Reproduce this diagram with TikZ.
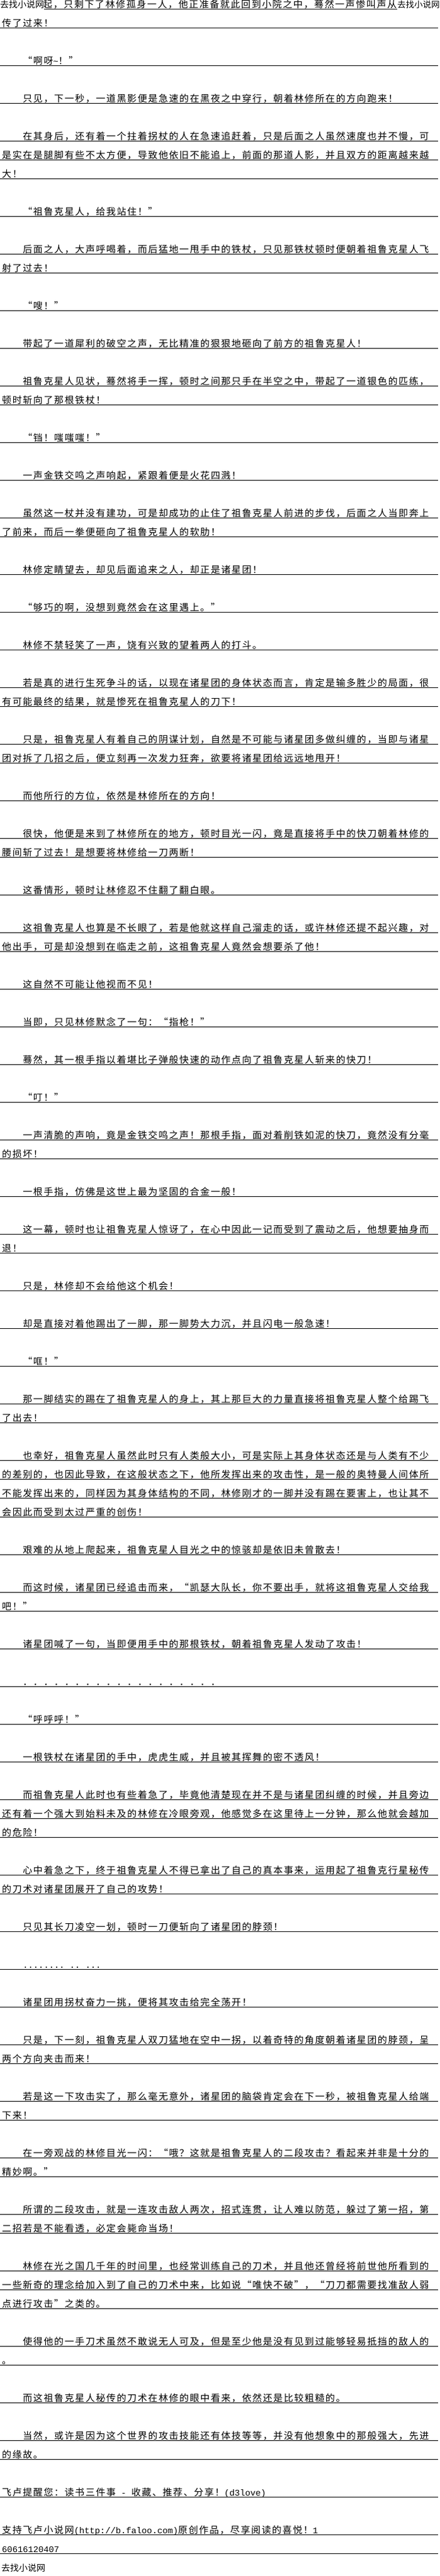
\documentclass[tikz,border=0pt]{standalone}
\usepackage{fontspec}
\usepackage{tikz}
\newfontfamily\cjkfont[LetterSpace=10.7,CharacterWidth=Full]{Noto Sans CJK SC}
\newfontfamily\markfont{Noto Sans CJK SC}
\newfontfamily\latinmono{Liberation Mono}
\newcommand{\halfw}{\fontsize{13.8}{18}\selectfont\latinmono}

\begin{document}
\begin{tikzpicture}[x=1pt, y=-30pt]
            \tikzset{
                text_line/.style={anchor=base west, inner sep=0pt, yshift=1.5pt, font=\fontsize{15}{18}\selectfont\cjkfont},
                indented/.style={text_line, xshift=33.2pt},
                rule_line/.style={line width=1pt},
                watermark/.style={anchor=base west, inner xsep=0pt, inner ysep=1.2pt, yshift=1.5pt, fill=white, font=\fontsize{14}{18}\selectfont\markfont}
            }
            \path[use as bounding box, fill=white] (0,-0.477) rectangle (700,136.19);

            % ruled lines under each written line
            \foreach \n in {0,1,3,5,7,8,9,11,13,14,16,18,20,21,23,25,27,28,30,32,34,36,37,39,40,42,44,45,47,49,50,52,54,56,58,60,61,63,65,66,68,70,72,74,75,77,78,79,80,82,84,85,87,89,91,93,95,96,97,99,100,102,104,106,108,109,111,112,114,115,117,118,120,121,122,124,125,127,129,130,132,134,135}
                \draw[rule_line] (0,\n) -- (697,\n);

            \node[text_line] (t0) at (68,0) {起，只剩下了林修孤身一人，他正准备就此回到小院之中，蓦然一声惨叫声从};
            \node[watermark] (w0) at (0,0) {去找小说网\hspace{8pt}};
            \node[watermark, font=\fontsize{13.5}{18}\selectfont\markfont] (w1) at (632,0) {去找小说网};
            \node[text_line] (t1) at (3,1) {传了过来！};
            \node[indented] (t3) at (3,3) {“啊呀{\halfw \string~}！”};
            \node[indented] (t5) at (3,5) {只见，下一秒，一道黑影便是急速的在黑夜之中穿行，朝着林修所在的方向跑来！};
            \node[indented] (t7) at (3,7) {在其身后，还有着一个拄着拐杖的人在急速追赶着，只是后面之人虽然速度也并不慢，可};
            \node[text_line] (t8) at (3,8) {是实在是腿脚有些不太方便，导致他依旧不能追上，前面的那道人影，并且双方的距离越来越};
            \node[text_line] (t9) at (3,9) {大！};
            \node[indented] (t11) at (3,11) {“祖鲁克星人，给我站住！”};
            \node[indented] (t13) at (3,13) {后面之人，大声呼喝着，而后猛地一甩手中的铁杖，只见那铁杖顿时便朝着祖鲁克星人飞};
            \node[text_line] (t14) at (3,14) {射了过去！};
            \node[indented] (t16) at (3,16) {“嗖！”};
            \node[indented] (t18) at (3,18) {带起了一道犀利的破空之声，无比精准的狠狠地砸向了前方的祖鲁克星人！};
            \node[indented] (t20) at (3,20) {祖鲁克星人见状，蓦然将手一挥，顿时之间那只手在半空之中，带起了一道银色的匹练，};
            \node[text_line] (t21) at (3,21) {顿时斩向了那根铁杖！};
            \node[indented] (t23) at (3,23) {“铛！嗤嗤嗤！”};
            \node[indented] (t25) at (3,25) {一声金铁交鸣之声响起，紧跟着便是火花四溅！};
            \node[indented] (t27) at (3,27) {虽然这一杖并没有建功，可是却成功的止住了祖鲁克星人前进的步伐，后面之人当即奔上};
            \node[text_line] (t28) at (3,28) {了前来，而后一拳便砸向了祖鲁克星人的软肋！};
            \node[indented] (t30) at (3,30) {林修定睛望去，却见后面追来之人，却正是诸星团！};
            \node[indented] (t32) at (3,32) {“够巧的啊，没想到竟然会在这里遇上。”};
            \node[indented] (t34) at (3,34) {林修不禁轻笑了一声，饶有兴致的望着两人的打斗。};
            \node[indented] (t36) at (3,36) {若是真的进行生死争斗的话，以现在诸星团的身体状态而言，肯定是输多胜少的局面，很};
            \node[text_line] (t37) at (3,37) {有可能最终的结果，就是惨死在祖鲁克星人的刀下！};
            \node[indented] (t39) at (3,39) {只是，祖鲁克星人有着自己的阴谋计划，自然是不可能与诸星团多做纠缠的，当即与诸星};
            \node[text_line] (t40) at (3,40) {团对拆了几招之后，便立刻再一次发力狂奔，欲要将诸星团给远远地甩开！};
            \node[indented] (t42) at (3,42) {而他所行的方位，依然是林修所在的方向！};
            \node[indented] (t44) at (3,44) {很快，他便是来到了林修所在的地方，顿时目光一闪，竟是直接将手中的快刀朝着林修的};
            \node[text_line] (t45) at (3,45) {腰间斩了过去！是想要将林修给一刀两断！};
            \node[indented] (t47) at (3,47) {这番情形，顿时让林修忍不住翻了翻白眼。};
            \node[indented] (t49) at (3,49) {这祖鲁克星人也算是不长眼了，若是他就这样自己溜走的话，或许林修还提不起兴趣，对};
            \node[text_line] (t50) at (3,50) {他出手，可是却没想到在临走之前，这祖鲁克星人竟然会想要杀了他！};
            \node[indented] (t52) at (3,52) {这自然不可能让他视而不见！};
            \node[indented] (t54) at (3,54) {当即，只见林修默念了一句：“指枪！”};
            \node[indented] (t56) at (3,56) {蓦然，其一根手指以着堪比子弹般快速的动作点向了祖鲁克星人斩来的快刀！};
            \node[indented] (t58) at (3,58) {“叮！”};
            \node[indented] (t60) at (3,60) {一声清脆的声响，竟是金铁交鸣之声！那根手指，面对着削铁如泥的快刀，竟然没有分毫};
            \node[text_line] (t61) at (3,61) {的损坏！};
            \node[indented] (t63) at (3,63) {一根手指，仿佛是这世上最为坚固的合金一般！};
            \node[indented] (t65) at (3,65) {这一幕，顿时也让祖鲁克星人惊讶了，在心中因此一记而受到了震动之后，他想要抽身而};
            \node[text_line] (t66) at (3,66) {退！};
            \node[indented] (t68) at (3,68) {只是，林修却不会给他这个机会！};
            \node[indented] (t70) at (3,70) {却是直接对着他踢出了一脚，那一脚势大力沉，并且闪电一般急速！};
            \node[indented] (t72) at (3,72) {“哐！”};
            \node[indented] (t74) at (3,74) {那一脚结实的踢在了祖鲁克星人的身上，其上那巨大的力量直接将祖鲁克星人整个给踢飞};
            \node[text_line] (t75) at (3,75) {了出去！};
            \node[indented] (t77) at (3,77) {也幸好，祖鲁克星人虽然此时只有人类般大小，可是实际上其身体状态还是与人类有不少};
            \node[text_line] (t78) at (3,78) {的差别的，也因此导致，在这般状态之下，他所发挥出来的攻击性，是一般的奥特曼人间体所};
            \node[text_line] (t79) at (3,79) {不能发挥出来的，同样因为其身体结构的不同，林修刚才的一脚并没有踢在要害上，也让其不};
            \node[text_line] (t80) at (3,80) {会因此而受到太过严重的创伤！};
            \node[indented] (t82) at (3,82) {艰难的从地上爬起来，祖鲁克星人目光之中的惊骇却是依旧未曾散去！};
            \node[indented] (t84) at (3,84) {而这时候，诸星团已经追击而来，“凯瑟大队长，你不要出手，就将这祖鲁克星人交给我};
            \node[text_line] (t85) at (3,85) {吧！”};
            \node[indented] (t87) at (3,87) {诸星团喊了一句，当即便用手中的那根铁杖，朝着祖鲁克星人发动了攻击！};
            \node[indented] (t89) at (3,89) {．．．．．．．．．．．．．．．．．．．};
            \node[indented] (t91) at (3,91) {“呼呼呼！”};
            \node[indented] (t93) at (3,93) {一根铁杖在诸星团的手中，虎虎生威，并且被其挥舞的密不透风！};
            \node[indented] (t95) at (3,95) {而祖鲁克星人此时也有些着急了，毕竟他清楚现在并不是与诸星团纠缠的时候，并且旁边};
            \node[text_line] (t96) at (3,96) {还有着一个强大到始料未及的林修在冷眼旁观，他感觉多在这里待上一分钟，那么他就会越加};
            \node[text_line] (t97) at (3,97) {的危险！};
            \node[indented] (t99) at (3,99) {心中着急之下，终于祖鲁克星人不得已拿出了自己的真本事来，运用起了祖鲁克行星秘传};
            \node[text_line] (t100) at (3,100) {的刀术对诸星团展开了自己的攻势！};
            \node[indented] (t102) at (3,102) {只见其长刀凌空一划，顿时一刀便斩向了诸星团的脖颈！};
            \node[indented] (t104) at (3,104) {\halfw ........\ ..\ ...};
            \node[indented] (t106) at (3,106) {诸星团用拐杖奋力一挑，便将其攻击给完全荡开！};
            \node[indented] (t108) at (3,108) {只是，下一刻，祖鲁克星人双刀猛地在空中一拐，以着奇特的角度朝着诸星团的脖颈，呈};
            \node[text_line] (t109) at (3,109) {两个方向夹击而来！};
            \node[indented] (t111) at (3,111) {若是这一下攻击实了，那么毫无意外，诸星团的脑袋肯定会在下一秒，被祖鲁克星人给端};
            \node[text_line] (t112) at (3,112) {下来！};
            \node[indented] (t114) at (3,114) {在一旁观战的林修目光一闪：“哦？这就是祖鲁克星人的二段攻击？看起来并非是十分的};
            \node[text_line] (t115) at (3,115) {精妙啊。”};
            \node[indented] (t117) at (3,117) {所谓的二段攻击，就是一连攻击敌人两次，招式连贯，让人难以防范，躲过了第一招，第};
            \node[text_line] (t118) at (3,118) {二招若是不能看透，必定会毙命当场！};
            \node[indented] (t120) at (3,120) {林修在光之国几千年的时间里，也经常训练自己的刀术，并且他还曾经将前世他所看到的};
            \node[text_line] (t121) at (3,121) {一些新奇的理念给加入到了自己的刀术中来，比如说“唯快不破”，“刀刀都需要找准敌人弱};
            \node[text_line] (t122) at (3,122) {点进行攻击”之类的。};
            \node[indented] (t124) at (3,124) {使得他的一手刀术虽然不敢说无人可及，但是至少他是没有见到过能够轻易抵挡的敌人的};
            \node[text_line] (t125) at (3,125) {。};
            \node[indented] (t127) at (3,127) {而这祖鲁克星人秘传的刀术在林修的眼中看来，依然还是比较粗糙的。};
            \node[indented] (t129) at (3,129) {当然，或许是因为这个世界的攻击技能还有体技等等，并没有他想象中的那般强大，先进};
            \node[text_line] (t130) at (3,130) {的缘故。};
            \node[text_line] (t132) at (3,132) {飞卢提醒您：读书三件事{\halfw\ -\ }收藏、推荐、分享！{\halfw (d3love)}};
            \node[text_line] (t134) at (3,134) {支持飞卢小说网{\halfw (http://b.faloo.com)}原创作品，尽享阅读的喜悦！{\halfw 1}};
            \node[text_line] (t135) at (3,135) {\halfw 60616120407};
            \node[watermark] (w2) at (2,136) {去找小说网};
        \end{tikzpicture}
\end{document}
